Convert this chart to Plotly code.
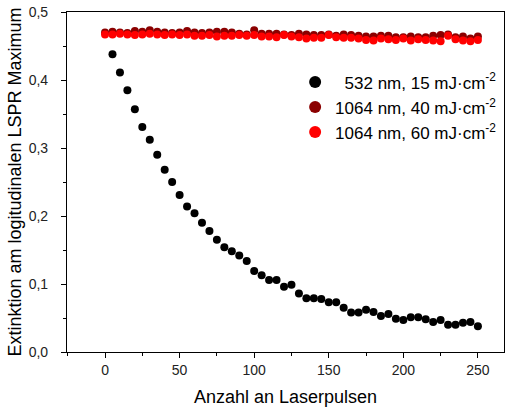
import plotly.graph_objects as go

x_black = list(range(5, 251, 5))
y_black = [0.438, 0.411, 0.385, 0.357, 0.331, 0.312, 0.290, 0.268, 0.250, 0.231,
           0.214, 0.204, 0.190, 0.178, 0.165, 0.154, 0.148, 0.142, 0.134, 0.119,
           0.113, 0.106, 0.106, 0.096, 0.099, 0.086, 0.079, 0.079, 0.078, 0.073,
           0.073, 0.065, 0.058, 0.058, 0.062, 0.059, 0.053, 0.056, 0.049, 0.047,
           0.051, 0.051, 0.048, 0.044, 0.047, 0.040, 0.040, 0.043, 0.044, 0.038]

x_red = list(range(0, 251, 5))
y_dark = [0.470, 0.471, 0.470, 0.469, 0.472, 0.471, 0.473, 0.471, 0.470, 0.469,
          0.470, 0.472, 0.470, 0.469, 0.470, 0.471, 0.471, 0.470, 0.468, 0.467,
          0.473, 0.468, 0.468, 0.468, 0.467, 0.466, 0.468, 0.467, 0.466, 0.466,
          0.467, 0.465, 0.467, 0.466, 0.465, 0.464, 0.464, 0.465, 0.465, 0.463,
          0.463, 0.464, 0.463, 0.463, 0.465, 0.466, 0.467, 0.463, 0.464, 0.461, 0.464]
y_bright = [0.467, 0.467, 0.468, 0.467, 0.466, 0.467, 0.468, 0.467, 0.466, 0.467,
            0.466, 0.467, 0.465, 0.465, 0.466, 0.464, 0.465, 0.465, 0.466, 0.465,
            0.466, 0.464, 0.464, 0.463, 0.466, 0.464, 0.463, 0.461, 0.462, 0.462,
            0.466, 0.463, 0.462, 0.462, 0.461, 0.459, 0.458, 0.461, 0.460, 0.459,
            0.461, 0.458, 0.460, 0.459, 0.458, 0.457, 0.465, 0.460, 0.458, 0.457, 0.459]

names = ["\u00a0\u00a0532 nm, 15 mJ·cm<sup>-2</sup>",
         "1064 nm, 40 mJ·cm<sup>-2</sup>",
         "1064 nm, 60 mJ·cm<sup>-2</sup>"]

fig = go.Figure()
fig.add_trace(go.Scatter(x=x_black, y=y_black, mode="markers", name=names[0],
                         marker=dict(color="black", size=8)))
fig.add_trace(go.Scatter(x=x_red, y=y_dark, mode="markers", name=names[1],
                         marker=dict(color="#8b0000", size=8)))
fig.add_trace(go.Scatter(x=x_red, y=y_bright, mode="markers", name=names[2],
                         marker=dict(color="#ff0000", size=8)))

axis_common = dict(showline=True, linecolor="black", linewidth=1.2, mirror=True,
                   ticks="outside", tickcolor="black", ticklen=5, showgrid=False,
                   zeroline=False, tickfont=dict(size=14, color="#222"))

fig.update_layout(
    width=506, height=407,
    margin=dict(l=67, r=2, t=12, b=55),
    plot_bgcolor="white", paper_bgcolor="white",
    font=dict(family="Liberation Sans, Arial, sans-serif", color="black"),
    separators=",.",
    xaxis=dict(range=[-25.5, 267.5], dtick=50, tick0=0,
               minor=dict(ticks="outside", dtick=25, ticklen=3, tickcolor="black"),
               title=dict(text="Anzahl an Laserpulsen", font=dict(size=18), standoff=14),
               **axis_common),
    yaxis=dict(range=[0, 0.5], dtick=0.1, tickformat=".1f", ticklabelstandoff=10,
               minor=dict(ticks="outside", dtick=0.05, ticklen=3, tickcolor="black"),
               title=dict(text="Extinktion am logitudinalen LSPR Maximum", font=dict(size=18), standoff=2),
               **axis_common),
    legend=dict(x=0.522, y=0.846, xanchor="left", yanchor="top",
                bgcolor="rgba(0,0,0,0)", font=dict(size=17), itemsizing="constant"),
    showlegend=True,
)
fig.write_html("out.html")
